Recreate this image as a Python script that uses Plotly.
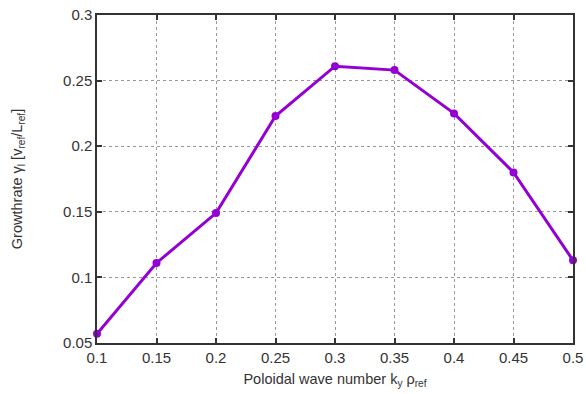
import plotly.graph_objects as go

ky = [0.1, 0.15, 0.2, 0.25, 0.3, 0.35, 0.4, 0.45, 0.5]
growthrate = [0.057, 0.111, 0.149, 0.223, 0.261, 0.258, 0.225, 0.180, 0.113]

x_ticks = [0.1, 0.15, 0.2, 0.25, 0.3, 0.35, 0.4, 0.45, 0.5]
x_labels = ["0.1", "0.15", "0.2", "0.25", "0.3", "0.35", "0.4", "0.45", "0.5"]
y_ticks = [0.05, 0.1, 0.15, 0.2, 0.25, 0.3]
y_labels = ["0.05", "0.1", "0.15", "0.2", "0.25", "0.3"]

fig = go.Figure()
fig.add_trace(go.Scatter(
    x=ky, y=growthrate, mode="lines+markers",
    line=dict(color="#9400D3", width=3),
    marker=dict(color="#9400D3", size=8, symbol="circle"),
    cliponaxis=False, showlegend=False,
))

font = dict(family="Liberation Sans, Arial, sans-serif", size=15, color="#333333")
axis_common = dict(
    showline=True, linecolor="#333333", linewidth=1.5, mirror="ticks",
    ticks="inside", ticklen=5, tickcolor="#333333", tickwidth=1.5,
    showgrid=True, gridcolor="#999999", griddash="dot", gridwidth=1,
    zeroline=False, tickfont=font, automargin=False,
)
fig.update_layout(
    width=586, height=394,
    margin=dict(l=97, r=13, t=15, b=51),
    paper_bgcolor="white", plot_bgcolor="white",
    font=font,
    xaxis=dict(range=[0.1, 0.5], tickvals=x_ticks, ticktext=x_labels,
               title=dict(text="Poloidal wave number k<sub>y</sub> ρ<sub>ref</sub>",
                          font=dict(size=14.5, color="#333333"), standoff=9),
               **axis_common),
    yaxis=dict(range=[0.05, 0.3], tickvals=y_ticks, ticktext=y_labels,
               title=dict(text="Growthrate γ<sub>l</sub> [v<sub>ref</sub>/L<sub>ref</sub>]",
                          font=dict(size=14.5, color="#333333"), standoff=37),
               **axis_common),
)
fig.write_html("out.html")
